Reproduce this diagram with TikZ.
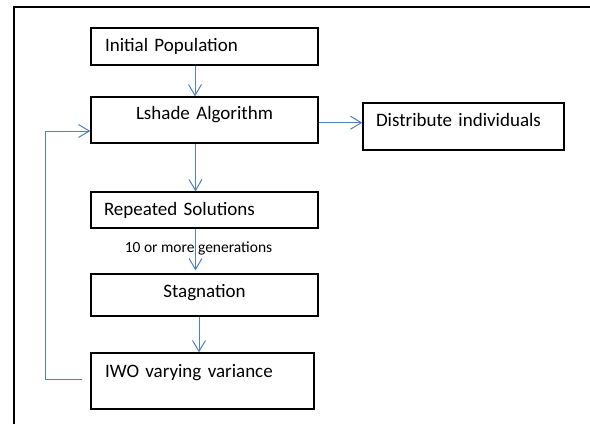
\documentclass[tikz,border=0pt]{standalone}
\usepackage{fontspec}
\setmainfont{Carlito}
\usetikzlibrary{arrows.meta,positioning}
\definecolor{flowblue}{RGB}{79,129,189}

\begin{document}
\begin{tikzpicture}[
    x=1pt, y=-1pt,
    box/.style={draw, line width=1.2pt, inner ysep=0pt, inner xsep=14pt, text height=12pt, font=\fontsize{19}{22}\selectfont},
    edge/.style={-{Straight Barb[length=11pt,width=13pt]}, draw=flowblue, line width=1pt}
]
\useasboundingbox (0,0) rectangle (590,424);
\draw[line width=1.5pt] (14,424) -- (14,7) -- (590,7);

\node[box, minimum width=227, minimum height=37, text width=199, align=left, text depth=2pt] (init) at (204.5,46.5) {Initial Population};
\node[box, minimum width=227, minimum height=46, text width=199, align=center, text depth=13pt] (lshade) at (204.5,120) {Lshade Algorithm};
\node[box, inner xsep=13pt, minimum width=201, minimum height=47, text width=175, align=left, text depth=13pt] (distr) at (463.5,126.5) {Distribute individuals};
\node[box, inner xsep=13pt, minimum width=227, minimum height=36, text width=201, align=left, text depth=2pt] (rep) at (204.5,210) {Repeated Solutions};
\node[box, minimum width=227, minimum height=42, text width=199, align=center, text depth=8pt] (stag) at (204.5,295) {Stagnation};
\node[box, minimum width=223, minimum height=56, text width=195, align=left, text depth=20pt] (iwo) at (202.5,381) {IWO varying variance};

\coordinate (fbstart) at (82,379);
\coordinate (fbleft) at (45,379);

\draw[edge] ([xshift=-9.5]init.south) -- ([xshift=-9.5]lshade.north);
\draw[edge] ([yshift=-2.7]lshade.east) -- ([yshift=-2.7]lshade.east -| distr.west);
\draw[edge] ([xshift=-9]lshade.south) -- ([xshift=-9]rep.north);
\draw[edge] ([xshift=-9]rep.south) -- ([xshift=-9,yshift=3]stag.north);
\draw[edge] ([xshift=-5.5]stag.south) -- ([xshift=-3.5]iwo.north);
\draw[edge] (fbstart) -- (fbleft) |- ([yshift=-11]lshade.west);

\node[font=\fontsize{15.5}{18}\selectfont] (gens) at (198.5,248) {10 or more generations};
\end{tikzpicture}
\end{document}
